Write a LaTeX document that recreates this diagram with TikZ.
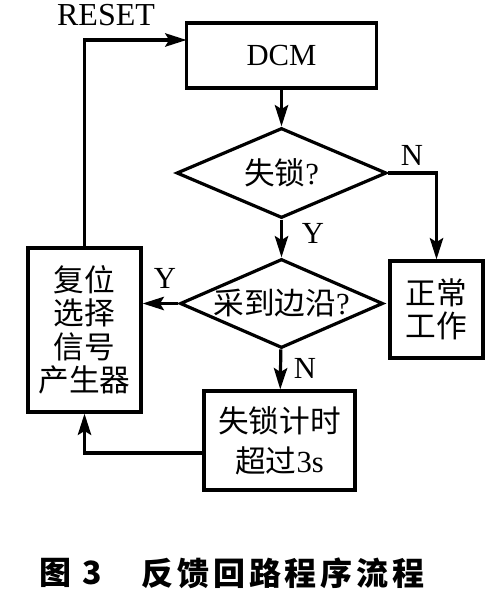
\documentclass[tikz,border=0pt]{standalone}
\usepackage{fontspec}
\setmainfont{Liberation Serif}
\newfontfamily\cjk{Noto Sans CJK SC}
\newfontfamily\capfont[LetterSpace=12]{Noto Sans CJK SC}
\usetikzlibrary{shapes.geometric,arrows.meta}

\tikzset{
  box/.style={draw, rectangle, inner sep=0pt, align=center, font=\fontsize{23}{25}\selectfont\cjk},
  decision/.style={draw, diamond, inner sep=0pt, font=\fontsize{23}{25}\selectfont\cjk},
  arr/.style={-{Stealth[length=16pt,width=10pt,inset=3pt]}},
  yn/.style={inner sep=0pt, font=\fontsize{23}{23}\selectfont},
}

\begin{document}
\begin{tikzpicture}[x=0.75pt,y=0.75pt,yscale=-1,xscale=1,line width=2.4pt]
\path[use as bounding box] (0,0) rectangle (498,602); %set diagram size 498 x 602

% Boxes
\node[box, minimum width=142.5pt, minimum height=48.75pt, font=\fontsize{23}{25}\selectfont] (dcm) at (281.5,55.5) {DCM};
\node[decision, aspect=2.33, minimum width=157.5pt, minimum height=67.5pt] (lock) at (281.5,173) {失锁\textrm{?}};
\node[decision, aspect=2.28, minimum width=152.25pt, minimum height=66.75pt] (edge) at (281.5,303.5) {采到边沿\textrm{?}};
\node[box, minimum width=69.75pt, minimum height=72.75pt] (normal) at (436.5,309.5) {正常\\工作};
\node[box, minimum width=84.75pt, minimum height=123pt] (resetgen) at (84.5,330) {复位\\选择\\信号\\产生器};
\node[box, minimum width=113.25pt, minimum height=74.25pt, font=\fontsize{23}{30}\selectfont\cjk] (timer) at (279.5,440.5) {失锁计时\\超过\textrm{3s}};

% Loose ends
\coordinate (resetin) at (186.5,40);
\coordinate (timerout) at (204,453);

%Straight Lines
\draw[arr] (dcm) -- (lock);
\draw[arr] (lock) -- (edge);
\draw[arr] (lock.east) -| (normal.north);
\draw[arr] (edge.west) -- (edge.west -| resetgen.east);
\draw[arr] (edge) -- (timer);
\draw[arr] (timerout) -| (resetgen.south);
\draw[arr] (resetgen.north) |- (resetin);

% Text Node
\node[yn] (nlock) at (412,155) {N};
\node[yn] (ylock) at (313,233) {Y};
\node[yn] (yedge) at (165,278) {Y};
\node[yn] (nedge) at (305,368) {N};
\node[inner sep=0pt, font=\fontsize{24}{24}\selectfont] (resetlab) at (106,15) {RESET};

% Caption
\node[anchor=west, inner sep=0pt, font=\fontsize{24}{24}\selectfont\cjk\bfseries] (capnum) at (38,573) {图\hspace{8pt}3};
\node[anchor=west, inner sep=0pt, font=\fontsize{24}{24}\selectfont\capfont\bfseries] (captitle) at (140,573) {反馈回路程序流程};

\end{tikzpicture}
\end{document}
